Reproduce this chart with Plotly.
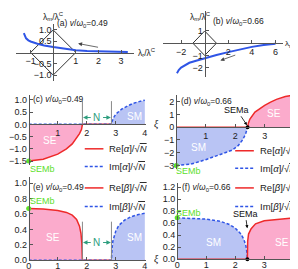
import plotly.graph_objects as go

W, H = 298, 269
FONT = "Liberation Sans, Arial, sans-serif"
SERIF = "Liberation Serif, Times New Roman, serif"

# ---------------- data ----------------
diamond_x = [1, 0, -1, 0, 1]
diamond_y = [0, 1, 0, -1, 0]

# (a) v/w0 = 0.49 eigenvalue trajectory
lam_r_a = [-1.3, -1.25, -1.2, -1.1, -1.0, -0.7, -0.4, 0, 0.5, 1, 1.5, 2, 2.5, 3, 3.3]
lam_m_a = [0.86, 0.72, 0.63, 0.54, 0.49, 0.39, 0.31, 0.24, 0.16, 0.1, 0.07, 0.05, 0.035, 0.025, 0.02]
# (b) v/w0 = 0.66
lam_r_b = [-2.35, -2.2, -2.0, -1.7, -1.3, -0.8, 0, 1, 2, 3, 4, 5, 6]
lam_m_b = [-2.45, -2.2, -2.0, -1.8, -1.6, -1.45, -1.22, -0.97, -0.73, -0.5, -0.3, -0.15, -0.04]

# (c) alpha, v/w0 = 0.49
xi_re_alpha_c = [0, 0.5, 1.0, 1.3, 1.5, 1.65, 1.75, 1.82, 1.84, 1.85, 4.0]
re_alpha_c = [-1.5, -1.43, -1.22, -1.0, -0.8, -0.55, -0.38, -0.2, -0.1, 0.0, 0.0]
xi_im_alpha_c = [0, 2.85, 2.87, 2.9, 2.95, 3.05, 3.2, 3.4, 3.6, 3.8, 4.0]
im_alpha_c = [0, 0, 0.12, 0.22, 0.33, 0.47, 0.62, 0.75, 0.86, 0.93, 0.99]

# (d) alpha, v/w0 = 0.66
xi_re_alpha_d = [0, 2.42, 2.45, 2.5, 2.67, 2.85, 3.0, 3.2, 3.4, 3.7, 4.0]
re_alpha_d = [0, 0, 0.35, 0.65, 1.2, 1.5, 1.72, 1.98, 2.2, 2.42, 2.55]
xi_im_alpha_d = [0, 0.5, 1.0, 1.5, 1.9, 2.1, 2.25, 2.35, 2.42, 4.0]
im_alpha_d = [-3.0, -2.9, -2.55, -2.15, -1.8, -1.45, -1.0, -0.55, 0, 0]

# (e) beta, v/w0 = 0.49
xi_re_beta_e = [0, 0.5, 1.0, 1.3, 1.5, 1.65, 1.75, 1.8, 1.83, 1.85, 4.0]
re_beta_e = [0.67, 0.665, 0.645, 0.62, 0.585, 0.53, 0.44, 0.35, 0.22, 0.0, 0.0]
xi_im_beta_e = [0, 2.85, 2.87, 2.9, 3.0, 3.1, 3.3, 3.5, 3.75, 4.0]
im_beta_e = [0, 0, 0.15, 0.25, 0.38, 0.45, 0.52, 0.56, 0.59, 0.61]

# (f) beta, v/w0 = 0.66
xi_im_beta_f = [0, 0.5, 1.0, 1.5, 1.8, 2.0, 2.2, 2.3, 2.37, 2.41, 2.42, 4.0]
im_beta_f = [0.69, 0.685, 0.67, 0.63, 0.58, 0.52, 0.42, 0.33, 0.22, 0.1, 0, 0]
xi_re_beta_f = [0, 2.42, 2.43, 2.46, 2.55, 2.7, 3.0, 3.5, 4.0]
re_beta_f = [0, 0, 0.3, 0.42, 0.51, 0.59, 0.64, 0.67, 0.69]

# phase boundaries / special points
xi_N_lo, xi_N_hi = 1.85, 2.85
xi_SEMa = 2.42

# ---------------- styles ----------------
RED = "#ee2a2a"
BLUE = "#2f55e6"
PINK = "#fbabcc"
LBLUE = "#b9c4f4"
GREEN = "#5ee02a"
TEAL = "#2e9e7e"
AXC = "#555555"

def fx(px):
    return px / W

def fy(py):
    return 1 - py / H

# panel geometry: (x domain px, x range, y domain px (top,bottom), y range)
panels = {
    1: ((5, 125), (-1.65, 3.57), (15, 74), (-1.28, 1.28)),
    2: ((155, 277), (-3.5, 6.67), (2, 70), (-2.8, 2.64)),
    3: ((18, 137), (0, 4.03), (88, 160), (-1.68, 1.2)),
    4: ((168, 291), (0, 4.1), (88, 164), (-3.31, 2.54)),
    5: ((18, 137), (0, 4.03), (172, 257), (0, 1.077)),
    6: ((169, 290), (0, 4.1), (178, 256), (0, 1.27)),
}

def zero_px(dom, rng, vertical=False):
    a, b = rng
    if not vertical:
        return dom[0] + (0 - a) / (b - a) * (dom[1] - dom[0])
    top, bot = dom
    return bot - (0 - a) / (b - a) * (bot - top)

fig = go.Figure()

def xa(i):
    return "x" if i == 1 else f"x{i}"

def ya(i):
    return "y" if i == 1 else f"y{i}"

def add_line(i, x, y, color, dash="solid", width=1.5, fill=None, fillcolor=None):
    fig.add_trace(go.Scatter(x=x, y=y, mode="lines", xaxis=xa(i), yaxis=ya(i),
                             line=dict(color=color, width=width, dash=dash),
                             fill=fill, fillcolor=fillcolor, showlegend=False,
                             hoverinfo="skip"))

def add_dot(i, x, y, color, size=5):
    fig.add_trace(go.Scatter(x=x, y=y, mode="markers", xaxis=xa(i), yaxis=ya(i),
                             marker=dict(color=color, size=size), cliponaxis=False,
                             showlegend=False, hoverinfo="skip"))

# (a), (b)
for i, (lr, lm) in ((1, (lam_r_a, lam_m_a)), (2, (lam_r_b, lam_m_b))):
    add_line(i, diamond_x, diamond_y, "#333333", width=1)
    add_line(i, lr, lm, BLUE, width=2)

# (c)
add_line(3, xi_re_alpha_c, re_alpha_c, RED, fill="tozeroy", fillcolor=PINK)
add_line(3, xi_im_alpha_c, im_alpha_c, BLUE, dash="3px,2px", fill="tozeroy", fillcolor=LBLUE)
add_dot(3, [0], [re_alpha_c[0]], GREEN)
# (d)
add_line(4, xi_im_alpha_d, im_alpha_d, BLUE, dash="3px,2px", fill="tozeroy", fillcolor=LBLUE)
add_line(4, xi_re_alpha_d, re_alpha_d, RED, fill="tozeroy", fillcolor=PINK)
add_dot(4, [0], [im_alpha_d[0]], GREEN)
add_dot(4, [xi_SEMa], [0], "black", size=4)
# (e)
add_line(5, xi_re_beta_e, re_beta_e, RED, fill="tozeroy", fillcolor=PINK)
add_line(5, xi_im_beta_e, im_beta_e, BLUE, dash="3px,2px", fill="tozeroy", fillcolor=LBLUE)
add_dot(5, [0], [re_beta_e[0]], GREEN)
# (f)
add_line(6, xi_im_beta_f, im_beta_f, BLUE, dash="3px,2px", fill="tozeroy", fillcolor=LBLUE)
add_line(6, xi_re_beta_f, re_beta_f, RED, fill="tozeroy", fillcolor=PINK)
add_dot(6, [0], [im_beta_f[0]], GREEN)
add_dot(6, [xi_SEMa], [0], "black", size=4)

layout = dict(width=W, height=H, margin=dict(l=0, r=0, t=0, b=0),
              paper_bgcolor="white", plot_bgcolor="rgba(0,0,0,0)",
              font=dict(family=FONT, size=9, color="#222"))

tick_cfg = {
    1: (dict(tickvals=[-1, 1, 2, 3], ticktext=["−1", "1", "2", "3"]),
        dict(tickvals=[-1, -0.5, 0.5, 1], ticktext=["−1.0", "−0.5", "0.5", "1.0"])),
    2: (dict(tickvals=[-2, 2, 4, 6], ticktext=["−2", "2", "4", "6"]),
        dict(tickvals=[-2, -1, 1], ticktext=["−2", "−1", "1"])),
    3: (dict(tickvals=[1, 2, 3, 4]),
        dict(tickvals=[-1.5, -1, -0.5, 0, 0.5, 1.0], ticktext=["−1.5", "−1.0", "−0.5", "0.0", "0.5", "1.0"])),
    4: (dict(tickvals=[1, 2, 3, 4]),
        dict(tickvals=[-3, -2, -1, 0, 1, 2], ticktext=["−3", "−2", "−1", "0", "1", "2"])),
    5: (dict(tickvals=[0, 1, 2, 3, 4], ticklabelstandoff=-3),
        dict(tickvals=[0, 0.2, 0.4, 0.6, 0.8, 1.0], ticktext=["0.0", "0.2", "0.4", "0.6", "0.8", "1.0"])),
    6: (dict(tickvals=[0, 1, 2, 3, 4], ticklabelstandoff=-3),
        dict(tickvals=[0, 0.2, 0.4, 0.6, 0.8, 1.0, 1.2], ticktext=["0.0", "0.2", "0.4", "0.6", "0.8", "1.0", "1.2"])),
}

for i, (xd, xr, yd, yr) in panels.items():
    common = dict(showgrid=False, zeroline=False, showline=True, linecolor=AXC, linewidth=1,
                  ticks="inside", ticklen=3, tickcolor=AXC, tickwidth=1,
                  tickfont=dict(family=FONT, size=9, color="#222"), fixedrange=True)
    y0px = zero_px(yd, yr, vertical=True)
    x0px = zero_px(xd, xr)
    xk = dict(common, domain=[fx(xd[0]), fx(xd[1])], range=list(xr),
              anchor="free", position=fy(y0px), **tick_cfg[i][0])
    yk = dict(common, domain=[fy(yd[1]), fy(yd[0])], range=list(yr),
              anchor="free", position=fx(x0px), **tick_cfg[i][1])
    layout["xaxis" if i == 1 else f"xaxis{i}"] = xk
    layout["yaxis" if i == 1 else f"yaxis{i}"] = yk

fig.update_layout(**layout)

ann = []
shapes = []

def ptext(px, py, text, size=9, color="#222", xanchor="left", family=FONT):
    ann.append(dict(x=fx(px), y=fy(py), xref="paper", yref="paper", text=text, showarrow=False,
                    xanchor=xanchor, yanchor="middle", font=dict(size=size, color=color, family=family)))

def dtext(i, x, y, text, size=10, color="white"):
    ann.append(dict(x=x, y=y, xref=xa(i), yref=ya(i), text=text, showarrow=False,
                    font=dict(size=size, color=color, family=FONT)))

# axis labels
lam_r = "λ<sub>r</sub>/λ<sup>C</sup>"
lam_m = "λ<sub>m</sub>/λ<sup>C</sup>"
ptext(127, 44, lam_r, size=8.5)
ptext(43, 8, lam_m, xanchor="center", size=8.5)
ptext(297, 35, lam_r, xanchor="right", size=8)
ptext(193, 8, lam_m, xanchor="center", size=8.5)
for px, py in ((143, 118), (295, 121), (143, 256), (295, 256)):
    ptext(px, py, "<i>ξ</i>", size=10, family=SERIF)

# panel labels
vw = "<i>v</i>/<i>ω</i><sub>0</sub>="
ptext(45, 15, "(a) " + vw + "0.49", size=8.5)
ptext(203, 13, "(b) " + vw + "0.66", size=8.5)
ptext(20, 93, "(c) " + vw + "0.49", size=8.5)
ptext(171, 95, "(d) " + vw + "0.66", size=8.5)
ptext(20, 183, "(e) " + vw + "0.49", size=8.5)
ptext(172, 183, "(f) " + vw + "0.66", size=8.5)

# arrows in (a), (b)
ann.append(dict(x=1.1, y=0.4, ax=2.05, ay=0.22, xref="x", yref="y", axref="x", ayref="y",
                text="", showarrow=True, arrowhead=2, arrowsize=1, arrowwidth=0.8, arrowcolor="#444"))
ann.append(dict(x=1.33, y=-1.41, ax=2.72, ay=-0.93, xref="x2", yref="y2", axref="x2", ayref="y2",
                text="", showarrow=True, arrowhead=2, arrowsize=1, arrowwidth=0.8, arrowcolor="#444"))

# region labels
dtext(3, 0.75, -0.68, "SE")
dtext(3, 3.63, 0.32, "SM")
dtext(4, 3.33, 1.1, "SE")
dtext(4, 0.77, -1.6, "SM")
dtext(5, 0.85, 0.29, "SE")
dtext(5, 3.63, 0.29, "SM")
dtext(6, 1.25, 0.28, "SM")
dtext(6, 3.63, 0.28, "SE")

# SEMb labels
ptext(32, 164, "SEMb", color=GREEN, xanchor="center")
ptext(181, 166, "SEMb", color=GREEN, xanchor="center")
ptext(32, 196, "SEMb", color=GREEN, xanchor="center")
ptext(181, 209, "SEMb", color=GREEN, xanchor="center")

# SEMa labels with arrows
ann.append(dict(x=xi_SEMa, y=0.1, ax=2.05, ay=1.38, xref="x4", yref="y4", axref="x4", ayref="y4",
                text="SEMa", showarrow=True, arrowhead=2, arrowsize=0.8, arrowwidth=0.8,
                arrowcolor="black", font=dict(size=9, color="#111"), standoff=1))
ann.append(dict(x=xi_SEMa, y=0.5, ax=2.35, ay=0.76, xref="x6", yref="y6", axref="x6", ayref="y6",
                text="SEMa", showarrow=True, arrowhead=2, arrowsize=0.8, arrowwidth=0.8,
                arrowcolor="black", font=dict(size=9, color="#111"), standoff=1))

# N region markers
for i, ytop, yN in ((3, 0.95, 0.28), (5, 0.5, 0.23)):
    for xb in (xi_N_lo, xi_N_hi):
        shapes.append(dict(type="line", x0=xb, x1=xb, y0=0, y1=ytop, xref=xa(i), yref=ya(i),
                           line=dict(color="#888888", width=1)))
    mid = (xi_N_lo + xi_N_hi) / 2
    dtext(i, mid, yN, "N", size=10, color=TEAL)
    for tail, head in ((mid - 0.16, xi_N_lo + 0.02), (mid + 0.16, xi_N_hi - 0.02)):
        ann.append(dict(x=head, y=yN, ax=tail, ay=yN, xref=xa(i), yref=ya(i), axref=xa(i), ayref=ya(i),
                        text="", showarrow=True, arrowhead=2, arrowsize=0.9, arrowwidth=1,
                        arrowcolor=TEAL, standoff=0, startstandoff=0))

# legends
ov = "√<span style='text-decoration:overline'><i>N</i></span>"
legends = [
    (75, 143, "Re[<i>α</i>]/" + ov, RED, "solid"),
    (75, 161, "Im[<i>α</i>]/" + ov, BLUE, "dash"),
    (228, 145, "Re[<i>α</i>]/" + ov, RED, "solid"),
    (228, 163, "Im[<i>α</i>]/" + ov, BLUE, "dash"),
    (75, 183, "Re[<i>β</i>]/" + ov, RED, "solid"),
    (75, 202, "Im[<i>β</i>]/" + ov, BLUE, "dash"),
    (228, 183, "Re[<i>β</i>]/" + ov, RED, "solid"),
    (228, 202, "Im[<i>β</i>]/" + ov, BLUE, "dash"),
]
for px, py, txt, col, dash in legends:
    shapes.append(dict(type="line", x0=fx(px), x1=fx(px + 19), y0=fy(py), y1=fy(py),
                       xref="paper", yref="paper",
                       line=dict(color=col, width=1.5, dash="3px,2px" if dash == "dash" else "solid")))
    ptext(px + 23, py, txt, size=9.5)

fig.update_layout(annotations=ann, shapes=shapes)
fig.write_html("out.html")
